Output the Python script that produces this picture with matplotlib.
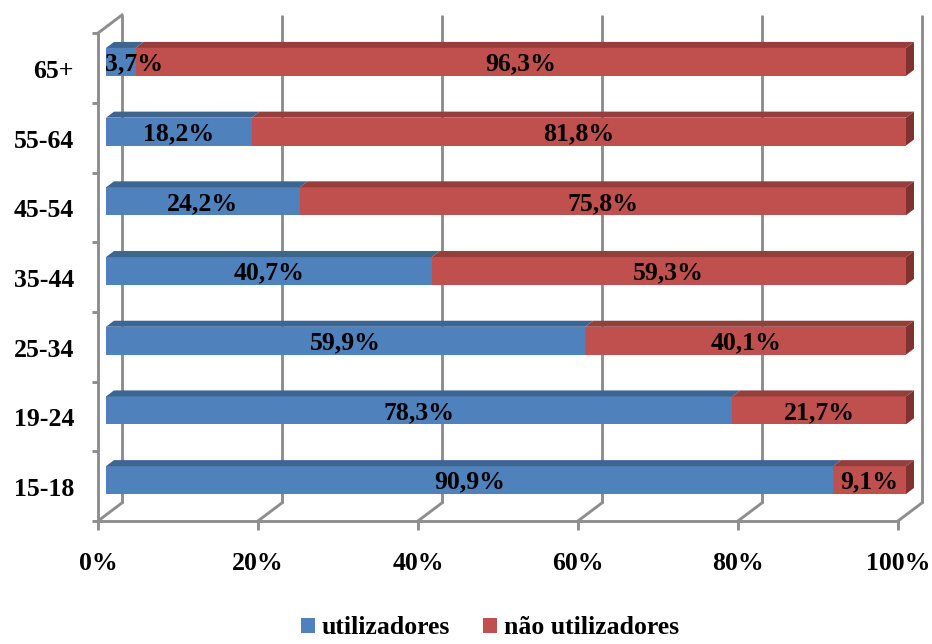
import matplotlib.pyplot as plt
from matplotlib.patches import Polygon, Patch

# share of internet users by age group (%)
ages = ['15-18', '19-24', '25-34', '35-44', '45-54', '55-64', '65+']
users = [90.9, 78.3, 59.9, 40.7, 24.2, 18.2, 3.7]
non_users = [9.1, 21.7, 40.1, 59.3, 75.8, 81.8, 96.3]
series_names = ['utilizadores', 'não utilizadores']
xticks = [0, 20, 40, 60, 80, 100]

front_col = ['#4F81BD', '#C0504D']
top_col = ['#3D6592', '#953E3B']
side_col = ['#3A6190', '#7E3331']
grid_col = '#8E8E8E'

# depth of the fake 3d box: x in %, y in category units
dx, dy = 3.0, 0.26
bar_h = 0.40
fs = 18.5
lw = 2.1

plt.rcParams['font.family'] = ['Liberation Serif', 'DejaVu Serif']
plt.rcParams['font.weight'] = 'bold'

fig = plt.figure(figsize=(9.32, 6.44), dpi=100)
ax = fig.add_axes([0, 0, 1, 1])
ax.set_xlim(-12.25, 104.25)
ax.set_ylim(-1.765, 7.475)
ax.axis('off')

n = len(ages)

# back wall gridlines, floor and ticks
for x in xticks:
    ax.plot([x + dx, x + dx], [dy, n + dy], color=grid_col, lw=lw, zorder=1,
            solid_capstyle='butt')
    ax.plot([x, x + dx], [0, dy], color=grid_col, lw=lw, zorder=1)
    ax.plot([x, x], [0, -0.13], color=grid_col, lw=lw, zorder=1,
            solid_capstyle='butt')
    ax.text(x, -0.61, '%d%%' % x, ha='center', va='center', fontsize=fs,
            fontweight='bold')
ax.plot([0, 100], [0, 0], color=grid_col, lw=lw, zorder=1)

# left wall
ax.plot([0, 0], [0, n], color=grid_col, lw=lw, zorder=1, solid_capstyle='butt')
ax.plot([0, dx], [n, n + dy], color=grid_col, lw=lw, zorder=1)
for i in range(n + 1):
    ax.plot([-0.75, 0], [i, i], color=grid_col, lw=lw, zorder=1,
            solid_capstyle='butt')
for i, a in enumerate(ages):
    ax.text(-3.0, i + 0.45, a, ha='right', va='center', fontsize=fs,
            fontweight='bold')

# stacked 3d bars
for i in range(n):
    y0 = i + 0.5 - bar_h / 2 + dy / 3
    y1 = y0 + bar_h
    ym = (y0 + y1) / 2 - 0.03
    left = 0
    for s, vals in enumerate([users, non_users]):
        v = vals[i]
        x0 = left + dx / 3
        x1 = left + v + dx / 3
        ax.add_patch(Polygon([(x0, y0), (x1, y0), (x1, y1), (x0, y1)],
                             closed=True, fc=front_col[s], ec='none', zorder=3))
        ax.add_patch(Polygon([(x0, y1), (x1, y1), (x1 + dx / 3, y1 + dy / 3),
                              (x0 + dx / 3, y1 + dy / 3)],
                             closed=True, fc=top_col[s], ec='none', zorder=3))
        if s == 1:
            ax.add_patch(Polygon([(x1, y0), (x1 + dx / 3, y0 + dy / 3),
                                  (x1 + dx / 3, y1 + dy / 3), (x1, y1)],
                                 closed=True, fc=side_col[s], ec='none', zorder=3))
        label = ('%.1f%%' % v).replace('.', ',')
        if v < 6 and s == 0:
            ax.text(x0 - 0.1, ym, label, ha='left', va='center',
                    fontsize=fs, fontweight='bold', zorder=5)
        else:
            ax.text((x0 + x1) / 2, ym, label, ha='center',
                    va='center', fontsize=fs, fontweight='bold', zorder=5)
        left += v

handles = [Patch(fc=front_col[0], ec='none'), Patch(fc=front_col[1], ec='none')]
ax.legend(handles, series_names, loc='center', ncol=2, frameon=False,
          bbox_to_anchor=(490 / 932, 16 / 644), bbox_transform=fig.transFigure,
          prop={'size': fs, 'weight': 'bold'}, handlelength=0.55,
          handleheight=0.55, handletextpad=0.25, columnspacing=1.3)

fig.savefig('out.png', dpi=100)
